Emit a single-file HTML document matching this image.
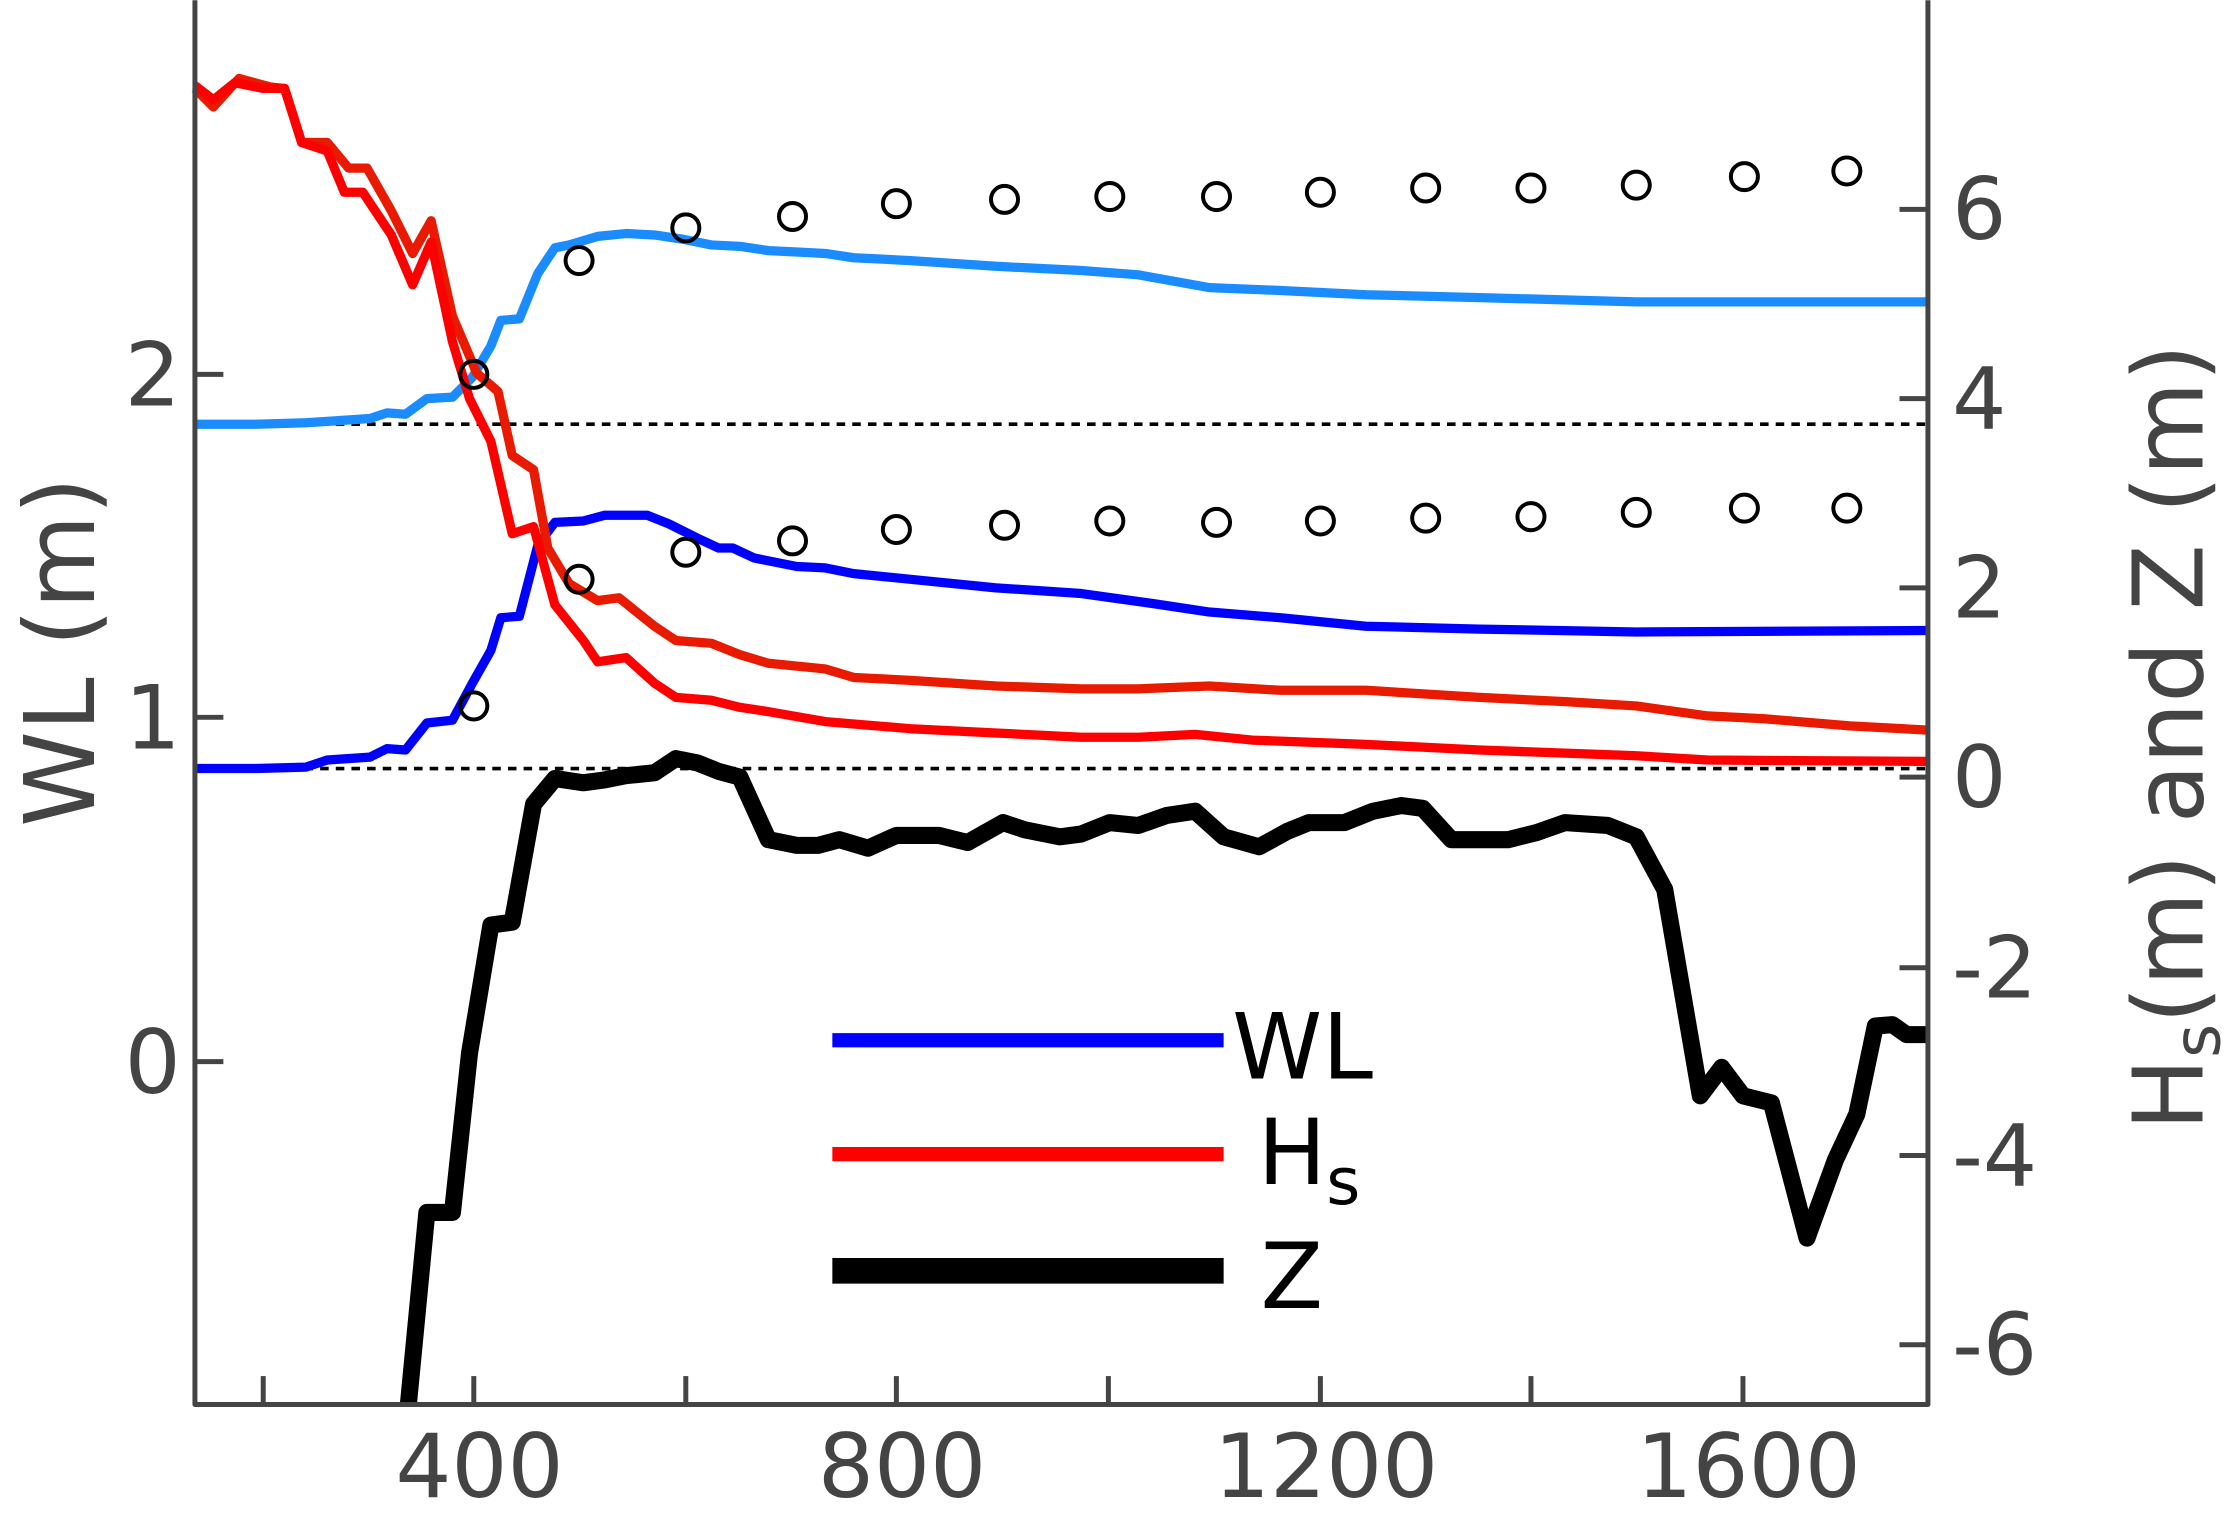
<!DOCTYPE html>
<html><head><meta charset="utf-8"><style>html,body{margin:0;padding:0;background:#fff}svg{display:block}</style></head>
<body>
<svg width="2231" height="1520" viewBox="0 0 1568 1068" xmlns="http://www.w3.org/2000/svg" font-family="DejaVu Sans, Liberation Sans, sans-serif" fill="#444">
<g fill="none" stroke-linejoin="round">
<line x1="137" y1="298" x2="1355" y2="298" stroke="#000" stroke-width="2.5" stroke-dasharray="6,5"/>
<line x1="137" y1="540" x2="1355" y2="540" stroke="#000" stroke-width="2.5" stroke-dasharray="6,5"/>
<polyline stroke="#1a8cff" stroke-width="6.5" points="137,298 180,298 215,297 230,296 260,294 272,290 285,291 300,280 318,279 332,265 345,243 352,225 365,224 378,192 390,174 400,172 420,166 440,164 460,165 480,168 500,172 520,173 540,176 560,177 580,178 600,181 640,183 700,187 760,190 800,193 850,202 900,204 960,207 1040,209 1150,212 1355,212"/>
<polyline stroke="#0000ff" stroke-width="6.5" points="137,540 180,540 215,539 230,534 260,532 272,526 285,527 300,508 318,506 332,480 345,457 352,434 365,433 378,383 390,367 410,366 425,362 455,362 470,368 490,378 505,385 515,385 530,392 560,398 580,399 600,403 640,407 700,413 760,417 810,424 850,430 900,434 960,440 1040,442 1150,444 1355,443"/>
<polyline stroke="#e81a00" stroke-width="6.5" points="137,62 150,75 168,55 190,61 200,62 212,100 230,100 245,118 258,118 275,148 290,178 303,155 318,222 335,262 350,275 360,320 375,330 385,385 400,410 420,422 435,420 460,440 475,450 500,452 520,460 540,466 580,470 600,476 640,478 700,482 760,484 800,484 850,482 900,485 960,485 1040,490 1100,493 1150,496 1200,503 1240,505 1300,510 1355,513"/>
<polyline stroke="#ff0000" stroke-width="6.5" points="137,60 150,70 165,58 185,62 200,62 212,100 230,106 242,135 255,135 275,165 290,200 303,170 318,240 330,280 345,310 360,375 375,370 390,425 410,450 420,465 440,462 460,480 475,490 500,492 520,497 540,500 580,507 640,512 700,515 760,518 800,518 840,516 880,520 960,523 1040,527 1150,531 1200,534 1355,535"/>
<polyline stroke="#000" stroke-width="12" points="287,987 300,852 318,852 330,740 345,650 360,648 375,565 390,547 410,550 425,548 440,545 460,543 475,533 490,536 505,542 520,546 540,590 560,594 575,594 590,590 610,596 630,587 660,587 680,592 705,578 720,583 745,588 760,586 780,578 800,580 820,573 840,570 860,588 885,595 905,584 920,578 945,578 965,570 985,566 1000,568 1020,590 1060,590 1080,585 1100,578 1130,580 1150,588 1170,625 1195,770 1210,750 1225,770 1245,775 1270,870 1290,815 1305,783 1318,721 1330,720 1340,727 1355,727"/>
<g stroke="#000" stroke-width="2.8">
<circle cx="333" cy="263" r="9.5"/><circle cx="407" cy="183" r="9.5"/><circle cx="482" cy="160" r="9.5"/><circle cx="557" cy="152" r="9.5"/><circle cx="630" cy="143" r="9.5"/><circle cx="706" cy="140" r="9.5"/><circle cx="780" cy="138" r="9.5"/><circle cx="855" cy="138" r="9.5"/><circle cx="928" cy="135" r="9.5"/><circle cx="1002" cy="132" r="9.5"/><circle cx="1076" cy="132" r="9.5"/><circle cx="1150" cy="130" r="9.5"/><circle cx="1226" cy="124" r="9.5"/><circle cx="1298" cy="120" r="9.5"/>
<circle cx="333" cy="496" r="9.5"/><circle cx="407" cy="407" r="9.5"/><circle cx="482" cy="388" r="9.5"/><circle cx="557" cy="380" r="9.5"/><circle cx="630" cy="372" r="9.5"/><circle cx="706" cy="369" r="9.5"/><circle cx="780" cy="366" r="9.5"/><circle cx="855" cy="367" r="9.5"/><circle cx="928" cy="366" r="9.5"/><circle cx="1002" cy="364" r="9.5"/><circle cx="1076" cy="363" r="9.5"/><circle cx="1150" cy="360" r="9.5"/><circle cx="1226" cy="357" r="9.5"/><circle cx="1298" cy="357" r="9.5"/>
</g>
<line x1="585" y1="731" x2="860" y2="731" stroke="#0000ff" stroke-width="10"/>
<line x1="585" y1="811" x2="860" y2="811" stroke="#ff0000" stroke-width="10"/>
<line x1="585" y1="893" x2="860" y2="893" stroke="#000" stroke-width="18"/>
<g stroke="#444" stroke-width="3.5">
<polyline points="137,0 137,987 1355,987 1355,0"/>
<line x1="185" y1="987" x2="185" y2="967"/><line x1="333" y1="987" x2="333" y2="967"/><line x1="482" y1="987" x2="482" y2="967"/><line x1="630" y1="987" x2="630" y2="967"/><line x1="779" y1="987" x2="779" y2="967"/><line x1="928" y1="987" x2="928" y2="967"/><line x1="1076" y1="987" x2="1076" y2="967"/><line x1="1225" y1="987" x2="1225" y2="967"/>
<line x1="137" y1="263" x2="157" y2="263"/><line x1="137" y1="504" x2="157" y2="504"/><line x1="137" y1="746" x2="157" y2="746"/>
<line x1="1355" y1="147" x2="1335" y2="147"/><line x1="1355" y1="280" x2="1335" y2="280"/><line x1="1355" y1="413" x2="1335" y2="413"/><line x1="1355" y1="546" x2="1335" y2="546"/><line x1="1355" y1="680" x2="1335" y2="680"/><line x1="1355" y1="812" x2="1335" y2="812"/><line x1="1355" y1="945" x2="1335" y2="945"/>
</g>
</g>
<g font-size="62" text-anchor="middle">
<text x="337" y="1052">400</text><text x="634" y="1052">800</text><text x="932" y="1052">1200</text><text x="1229" y="1052">1600</text>
</g>
<g font-size="62" text-anchor="end">
<text x="127" y="285">2</text><text x="127" y="526">1</text><text x="127" y="768">0</text>
</g>
<g font-size="60" text-anchor="start">
<text x="1372" y="168">6</text><text x="1372" y="301">4</text><text x="1372" y="434">2</text><text x="1372" y="567">0</text><text x="1372" y="701">-2</text><text x="1372" y="833">-4</text><text x="1372" y="966">-6</text>
</g>
<text font-size="68" transform="translate(66,458) rotate(-90)" text-anchor="middle">WL (m)</text>
<text font-size="68" transform="translate(1548,518) rotate(-90)" text-anchor="middle">H<tspan font-size="46" dy="12">s</tspan><tspan dy="-12">(m) and Z (m)</tspan></text>
<g fill="#000" font-size="64">
<text x="866" y="758">WL</text>
<text x="884" y="832">H<tspan font-size="46" dy="14">s</tspan></text>
<text x="886" y="919">Z</text>
</g>
</svg>
</body></html>
